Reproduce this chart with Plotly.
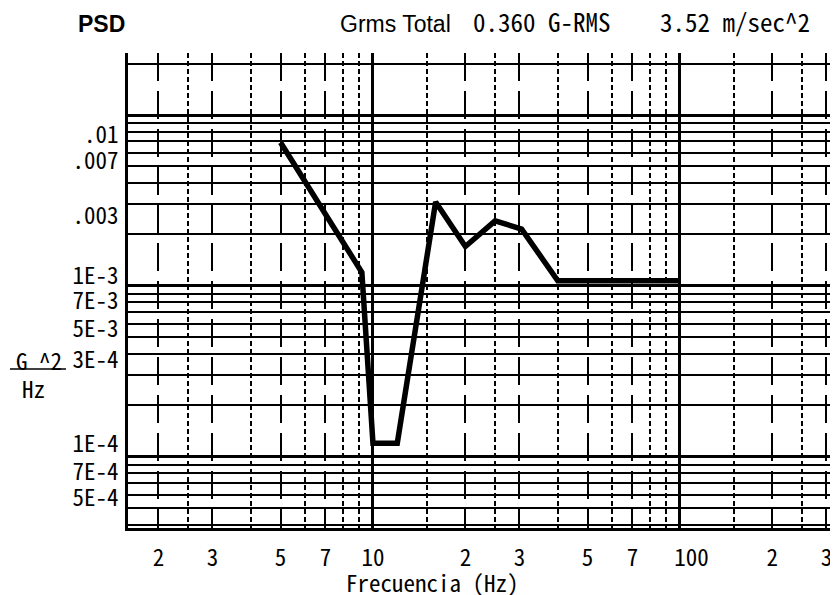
import math
import plotly.graph_objects as go

# ---- data ----
freq_hz = [5, 9.2, 10, 12, 16, 20, 25, 30.5, 40, 100]
psd_g2hz = [0.0069, 0.0012, 0.00012, 0.00012, 0.0031, 0.0017, 0.0024, 0.00215, 0.00107, 0.00107]

x_tick_vals = [2, 3, 5, 7, 10, 20, 30, 50, 70, 100, 200, 300]
x_tick_text = ["2", "3", "5", "7", "10", "2", "3", "5", "7", "\u00a0\u00a0100", "2", "3"]

y_tick_vals = [0.00764, 0.00538, 0.00256, 0.00114, 0.000817, 0.00056, 0.000369, 0.000119, 0.0000813, 0.0000573]
y_tick_text = [".01", ".007", ".003", "1E-3", "7E-3", "5E-3", "3E-4", "1E-4", "7E-4", "5E-4"]

x_grid_decades = [10, 100]
x_grid_solid = [2, 3, 5, 7, 20, 30, 50, 70, 200, 300]
x_grid_dotted = [1.5, 2.5, 4, 6, 8, 9, 15, 25, 40, 60, 80, 90, 150, 250]

y_grid_decades = [1e-5, 1e-4, 1e-3, 1e-2]
y_grid_minor = [k * 10.0 ** e for e in (-5, -4, -3, -2) for k in range(2, 10)]

x_range = [1.592, 320]
y_range = [3.825e-5, 0.02307]

# ---- style ----
MONO = "Noto Sans Mono CJK JP, Noto Sans CJK JP, DejaVu Sans Mono, monospace"
SANS = "Liberation Sans, Arial, sans-serif"
OFF = 8  # page body margin
W, H = 838 - OFF, 595 - OFF
L, R, T, B = 128 - OFF, 3, 53 - OFF, 67
PW, PH = W - L - R, H - T - B


def px(xp):
    return (xp - OFF - L) / PW


def py(yp):
    return (H - B - (yp - OFF)) / PH


fig = go.Figure()
fig.add_trace(go.Scatter(x=freq_hz, y=psd_g2hz, mode="lines",
                         line=dict(color="black", width=5.5),
                         showlegend=False, hoverinfo="skip"))
fig.add_trace(go.Scatter(x=[], y=[], xaxis="x2", yaxis="y2", showlegend=False, hoverinfo="skip"))
fig.add_trace(go.Scatter(x=[], y=[], xaxis="x3", yaxis="y2", showlegend=False, hoverinfo="skip"))

xr = [math.log10(v) for v in x_range]
yr = [math.log10(v) for v in y_range]

fig.update_layout(
    width=W, height=H,
    margin=dict(l=L, r=R, t=T, b=B, autoexpand=False),
    paper_bgcolor="white", plot_bgcolor="white",
    xaxis=dict(type="log", range=xr, tickmode="array", tickvals=x_tick_vals, ticktext=x_tick_text,
               showgrid=False, zeroline=False, showline=True, linecolor="black", linewidth=3,
               ticks="", ticklabelstandoff=7, automargin=False,
               tickfont=dict(family=MONO, size=23, color="black")),
    xaxis2=dict(type="log", range=xr, overlaying="x", matches="x", showticklabels=False, ticks="",
                tickmode="array", tickvals=x_grid_solid, showgrid=True, gridcolor="black",
                gridwidth=1.6, griddash="28px,10px", zeroline=False, showline=False, automargin=False,
                minor=dict(tickmode="array", tickvals=x_grid_dotted, showgrid=True, gridcolor="black",
                           gridwidth=1.5, griddash="5px,3px", ticks="")),
    xaxis3=dict(type="log", range=xr, overlaying="x", matches="x", showticklabels=False, ticks="",
                tickmode="array", tickvals=x_grid_decades, showgrid=True, gridcolor="black",
                gridwidth=3, zeroline=False, showline=False, automargin=False),
    yaxis=dict(type="log", range=yr, tickmode="array", tickvals=y_tick_vals, ticktext=y_tick_text,
               showgrid=False, zeroline=False, showline=True, linecolor="black", linewidth=3,
               ticks="", ticklabelstandoff=2, automargin=False,
               tickfont=dict(family=MONO, size=23, color="black")),
    yaxis2=dict(type="log", range=yr, overlaying="y", matches="y", showticklabels=False, ticks="",
                tickmode="array", tickvals=y_grid_decades, showgrid=True, gridcolor="black",
                gridwidth=3.2, zeroline=False, showline=False, automargin=False,
                minor=dict(tickmode="array", tickvals=y_grid_minor, showgrid=True, gridcolor="black",
                           gridwidth=1.6, ticks="")),
)

ann = [
    dict(text="<b>PSD</b>", x=px(101), y=py(24), font=dict(family=SANS, size=23)),
    dict(text="Grms Total", x=px(395), y=py(24), font=dict(family=SANS, size=23)),
    dict(text="0.360 G-RMS", x=px(542), y=py(21), font=dict(family=MONO, size=25)),
    dict(text="3.52 m/sec^2", x=px(735), y=py(21), font=dict(family=MONO, size=25)),
    dict(text="Frecuencia (Hz)", x=px(432), y=py(582), font=dict(family=MONO, size=23)),
    dict(text="G ^2", x=px(39), y=py(360), font=dict(family=MONO, size=23)),
    dict(text="Hz", x=px(34), y=py(388), font=dict(family=MONO, size=23)),
]
for a in ann:
    fig.add_annotation(xref="paper", yref="paper", showarrow=False, xanchor="center",
                       yanchor="middle", font_color="black", **{k: v for k, v in a.items()})

fig.add_shape(type="line", xref="paper", yref="paper", x0=px(10), x1=px(66), y0=py(369), y1=py(369),
              line=dict(color="black", width=1.5))

fig.write_html("out.html")
